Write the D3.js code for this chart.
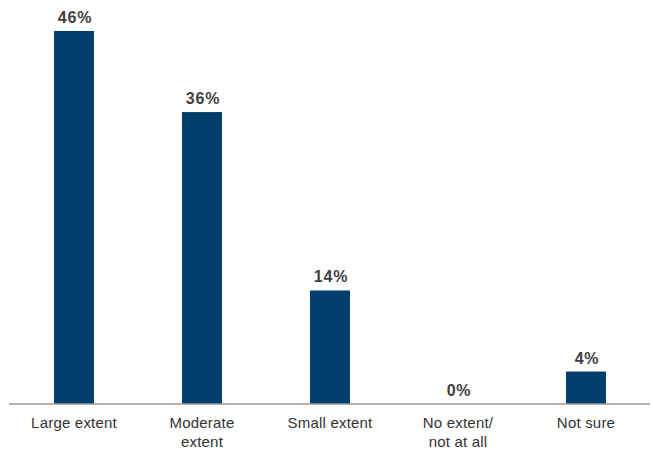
<!DOCTYPE html>
<html><head><meta charset="utf-8">
<script src="https://cdn.jsdelivr.net/npm/d3@7"></script>
<style>body{margin:0;background:#fff;}svg{display:block;}</style>
</head><body>
<script>
const categories = [["Large extent"], ["Moderate", "extent"], ["Small extent"], ["No extent/", "not at all"], ["Not sure"]];
const values = [46, 36, 14, 0, 4];
const valueLabels = ["46%", "36%", "14%", "0%", "4%"];

const W = 653, H = 450;
const svg = d3.select("body").append("svg").attr("width", W).attr("height", H);
const keys = categories.map(c => c.join(" "));
const x = d3.scaleBand().domain(keys).range([10, 650]).paddingInner(0.6875).paddingOuter(0.34375);
const y = d3.scaleLinear().domain([0, 46]).range([404, 31]);

svg.selectAll("rect.bar").data(values).enter().append("rect")
  .attr("x", (d, i) => x(keys[i]))
  .attr("width", x.bandwidth())
  .attr("y", d => y(d))
  .attr("height", d => y(0) - y(d))
  .attr("fill", "#003d6b");

svg.selectAll("text.val").data(values).enter().append("text")
  .attr("x", (d, i) => x(keys[i]) + x.bandwidth() / 2 + 1)
  .attr("y", d => y(d) - 8)
  .attr("text-anchor", "middle")
  .attr("font-family", "Liberation Sans, Arial, sans-serif")
  .attr("font-weight", "bold")
  .attr("font-size", 16)
  .attr("letter-spacing", 0.8)
  .attr("fill", "#404040")
  .text((d, i) => valueLabels[i]);

const axis = d3.axisBottom(x).tickSize(0).tickFormat("");
const g = svg.append("g").attr("transform", "translate(0,404)").call(axis);
g.select(".domain").attr("stroke", "#9a9a9a").attr("stroke-width", 1.5).attr("d", "M9,0H650");

const lab = svg.selectAll("text.cat").data(categories).enter().append("text")
  .attr("text-anchor", "middle")
  .attr("font-family", "Liberation Sans, Arial, sans-serif")
  .attr("font-size", 15)
  .attr("letter-spacing", 0.2)
  .attr("fill", "#333")
  .attr("transform", (d, i) => `translate(${x(keys[i]) + x.bandwidth() / 2},428)`);
lab.selectAll("tspan").data(d => d).enter().append("tspan")
  .attr("x", 0).attr("y", (d, i) => i * 19).text(d => d);
</script>
</body></html>
